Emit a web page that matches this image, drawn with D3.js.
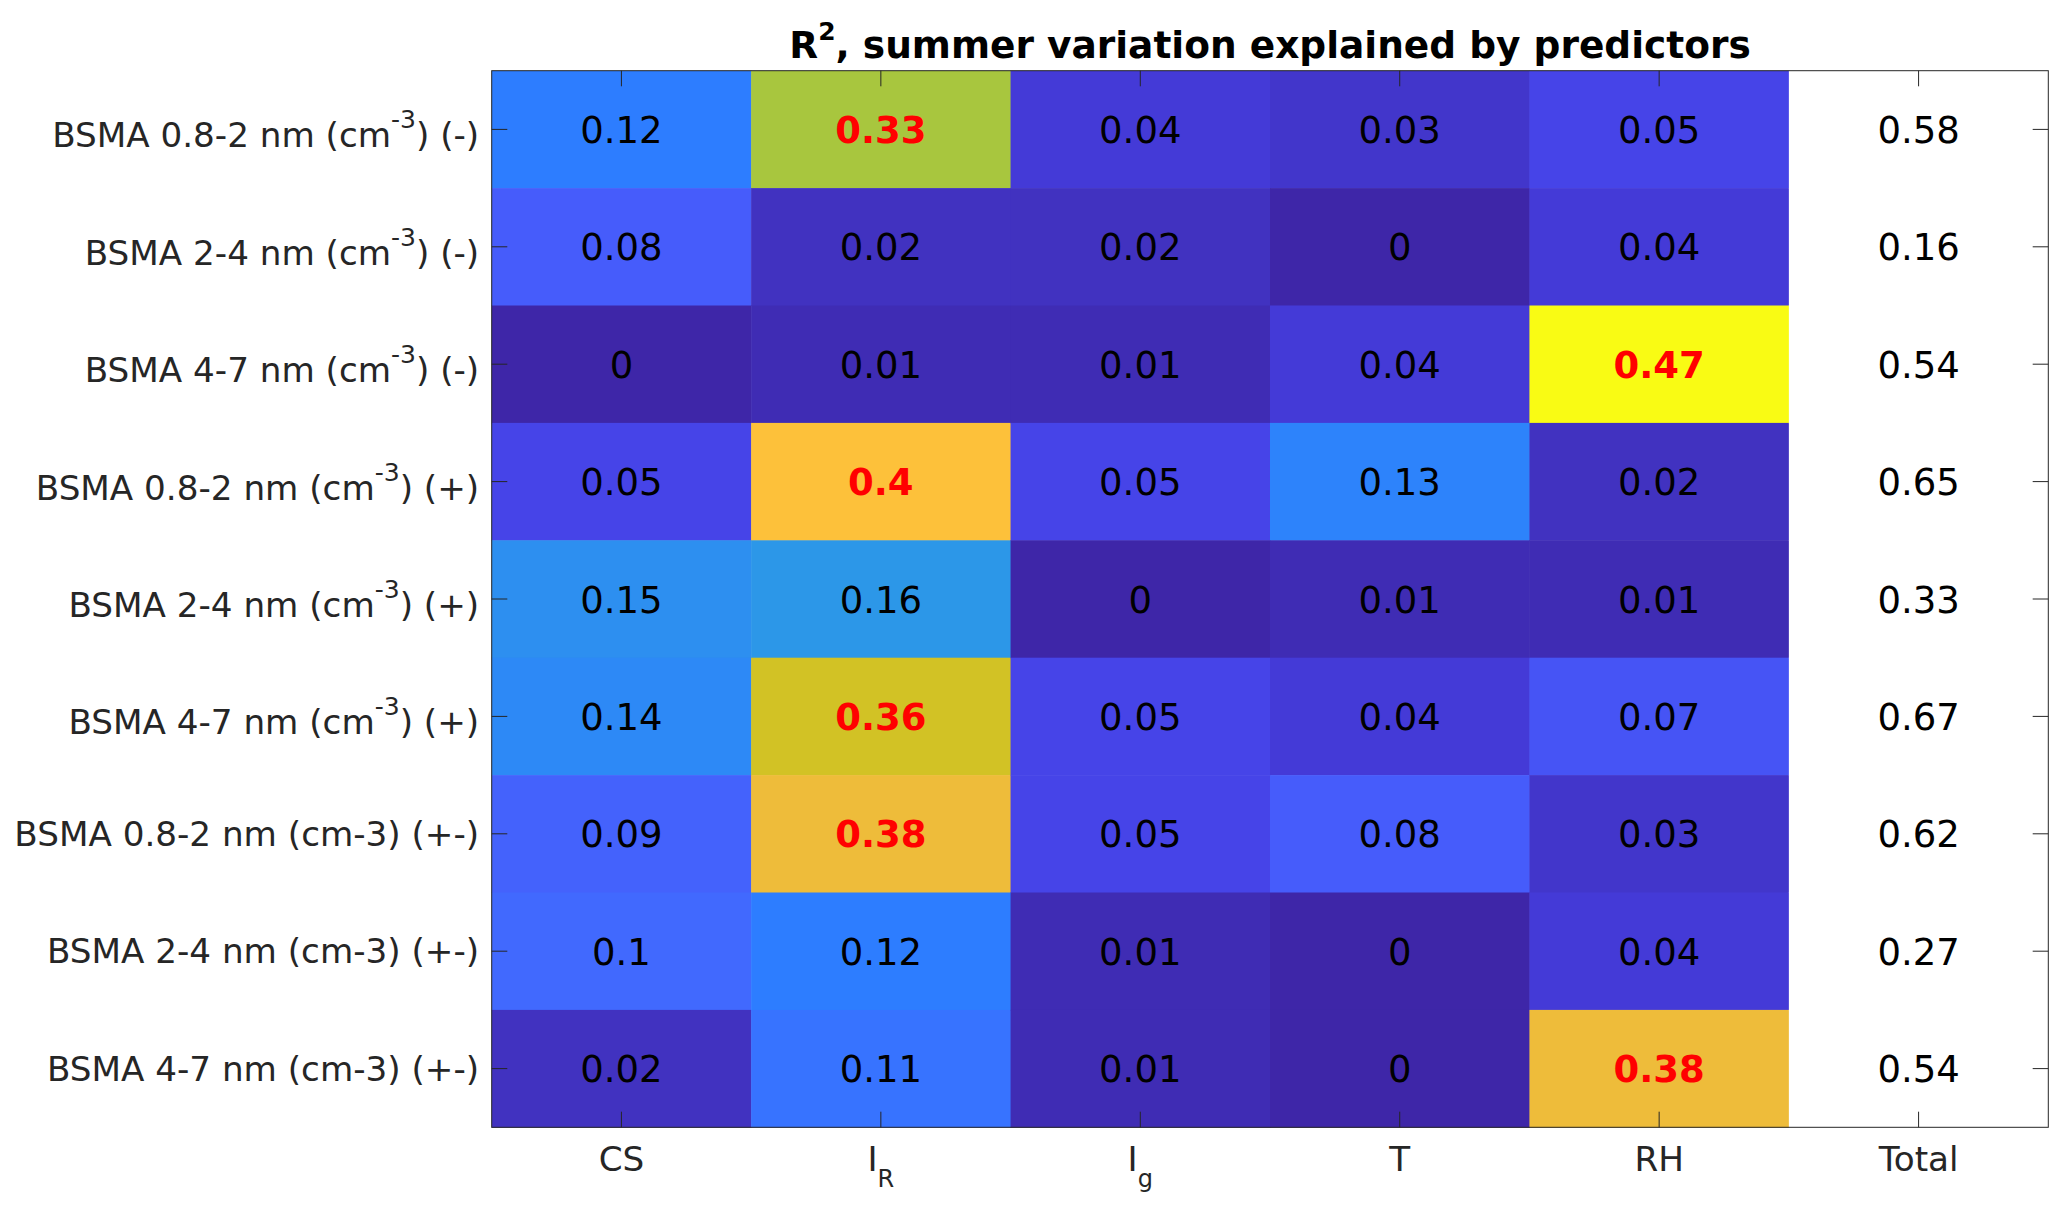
<!DOCTYPE html>
<html>
<head>
<meta charset="utf-8">
<script src="https://cdn.jsdelivr.net/npm/d3@7"></script>
<style>
  body { margin: 0; background: #fff; }
  svg { display: block; font-family: "DejaVu Sans", sans-serif; }
</style>
</head>
<body>
<svg id="chart" width="2067" height="1211"></svg>
<script>
// Row labels (TeX-like: ^{..} superscript)
var rowLabels = [
  "BSMA 0.8-2 nm (cm^{-3}) (-)",
  "BSMA 2-4 nm (cm^{-3}) (-)",
  "BSMA 4-7 nm (cm^{-3}) (-)",
  "BSMA 0.8-2 nm (cm^{-3}) (+)",
  "BSMA 2-4 nm (cm^{-3}) (+)",
  "BSMA 4-7 nm (cm^{-3}) (+)",
  "BSMA 0.8-2 nm (cm-3) (+-)",
  "BSMA 2-4 nm (cm-3) (+-)",
  "BSMA 4-7 nm (cm-3) (+-)"
];

// Column labels (_x subscript)
var colLabels = ["CS", "I_R", "I_g", "T", "RH", "Total"];

// R2 values per predictor, one entry per row
var csVals    = [0.12, 0.08, 0,    0.05, 0.15, 0.14, 0.09, 0.1,  0.02];
var irVals    = [0.33, 0.02, 0.01, 0.4,  0.16, 0.36, 0.38, 0.12, 0.11];
var igVals    = [0.04, 0.02, 0.01, 0.05, 0,    0.05, 0.05, 0.01, 0.01];
var tVals     = [0.03, 0,    0.04, 0.13, 0.01, 0.04, 0.08, 0,    0];
var rhVals    = [0.05, 0.04, 0.47, 0.02, 0.01, 0.07, 0.03, 0.04, 0.38];
var totalVals = [0.58, 0.16, 0.54, 0.65, 0.33, 0.67, 0.62, 0.27, 0.54];

var columns = [csVals, irVals, igVals, tVals, rhVals, totalVals];
var highlight = 0.3;   // values above this are shown bold red

var svg = d3.select("#chart");

// plot area
var plotL = 491.7, plotT = 70.7, plotW = 1556.6, plotH = 1056.6;
var tickLen = 15.6;

var x = d3.scaleBand().domain(d3.range(colLabels.length)).range([plotL, plotL + plotW]);
var y = d3.scaleBand().domain(d3.range(rowLabels.length)).range([plotT, plotT + plotH]);

// parula-like colormap, color limits [0, max of predictors]
var cmax = d3.max([csVals, irVals, igVals, tVals, rhVals], function(a) { return d3.max(a); });
var parulaT = [0, 0.043, 0.085, 0.106, 0.17, 0.213, 0.255, 0.31, 0.34, 0.5, 0.6, 0.702, 0.766, 0.809, 0.851, 0.93, 1];
var parulaC = ["#3e26a8", "#4132c0", "#443ad7", "#4644e8", "#465cfb", "#4169fe", "#2d7dff", "#2d8cf4", "#2c97e8",
               "#1eb2be", "#64c37d", "#a8c63e", "#d2c225", "#eebc3a", "#fdc13a", "#f5dc28", "#f9fb14"];
var color = d3.scaleLinear()
  .domain(parulaT.map(function(t) { return t * cmax; }))
  .range(parulaC)
  .clamp(true);

// cells
var cells = [];
columns.forEach(function(vals, c) {
  vals.forEach(function(v, r) { cells.push({c: c, r: r, v: v}); });
});

var last = colLabels.length - 1;

svg.append("g")
  .selectAll("rect")
  .data(cells)
  .enter()
  .append("rect")
    .attr("x", function(d) { return x(d.c); })
    .attr("y", function(d) { return y(d.r); })
    .attr("width", x.bandwidth() + 0.5)
    .attr("height", y.bandwidth() + 0.5)
    .attr("fill", function(d) { return d.c === last ? "#ffffff" : color(d.v); });

svg.append("g")
  .selectAll("text")
  .data(cells)
  .enter()
  .append("text")
    .attr("x", function(d) { return x(d.c) + x.bandwidth() / 2; })
    .attr("y", function(d) { return y(d.r) + y.bandwidth() / 2 + 13.5; })
    .attr("text-anchor", "middle")
    .style("font-size", "37px")
    .style("font-weight", function(d) { return d.c !== last && d.v > highlight ? "bold" : "normal"; })
    .attr("fill", function(d) { return d.c !== last && d.v > highlight ? "#ff0000" : "#000000"; })
    .text(function(d) { return String(d.v); });

// box and ticks
var axisColor = "#262626";
svg.append("rect")
  .attr("x", plotL).attr("y", plotT).attr("width", plotW).attr("height", plotH)
  .attr("fill", "none").attr("stroke", axisColor).attr("stroke-width", 1);

var ticks = svg.append("g").attr("stroke", axisColor).attr("stroke-width", 1);
x.domain().forEach(function(c) {
  var cx = x(c) + x.bandwidth() / 2;
  ticks.append("line").attr("x1", cx).attr("x2", cx).attr("y1", plotT + plotH).attr("y2", plotT + plotH - tickLen);
  ticks.append("line").attr("x1", cx).attr("x2", cx).attr("y1", plotT).attr("y2", plotT + tickLen);
});
y.domain().forEach(function(r) {
  var cy = y(r) + y.bandwidth() / 2;
  ticks.append("line").attr("x1", plotL).attr("x2", plotL + tickLen).attr("y1", cy).attr("y2", cy);
  ticks.append("line").attr("x1", plotL + plotW).attr("x2", plotL + plotW - tickLen).attr("y1", cy).attr("y2", cy);
});

// y tick labels with superscripts
rowLabels.forEach(function(lab, r) {
  var m = lab.match(/^(.*)\^\{(.*?)\}(.*)$/);
  var cy = y(r) + y.bandwidth() / 2;
  var t = svg.append("text")
    .attr("x", plotL - 12.5)
    .attr("y", cy + (m ? 18 : 12))
    .attr("text-anchor", "end")
    .attr("fill", axisColor)
    .style("font-size", "34.2px");
  if (m) {
    t.append("tspan").text(m[1]);
    t.append("tspan").attr("dy", -19).style("font-size", "25px").text(m[2]);
    t.append("tspan").attr("dy", 19).text(m[3]);
  } else {
    t.text(lab);
  }
});

// x tick labels with subscripts
colLabels.forEach(function(lab, c) {
  var parts = lab.split("_");
  var t = svg.append("text")
    .attr("x", x(c) + x.bandwidth() / 2)
    .attr("y", 1171)
    .attr("text-anchor", "middle")
    .attr("fill", axisColor)
    .style("font-size", "34.2px");
  t.append("tspan").text(parts[0]);
  if (parts.length > 1) {
    t.append("tspan").attr("dy", 16).style("font-size", "24px").text(parts[1]);
  }
});

// title
var title = svg.append("text")
  .attr("x", plotL + plotW / 2)
  .attr("y", 58)
  .attr("text-anchor", "middle")
  .style("font-size", "37.5px")
  .style("font-weight", "bold")
  .attr("fill", "#000");
title.append("tspan").text("R");
title.append("tspan").attr("dy", -18).style("font-size", "25px").text("2");
title.append("tspan").attr("dy", 18).text(", summer variation explained by predictors");
</script>
</body>
</html>
